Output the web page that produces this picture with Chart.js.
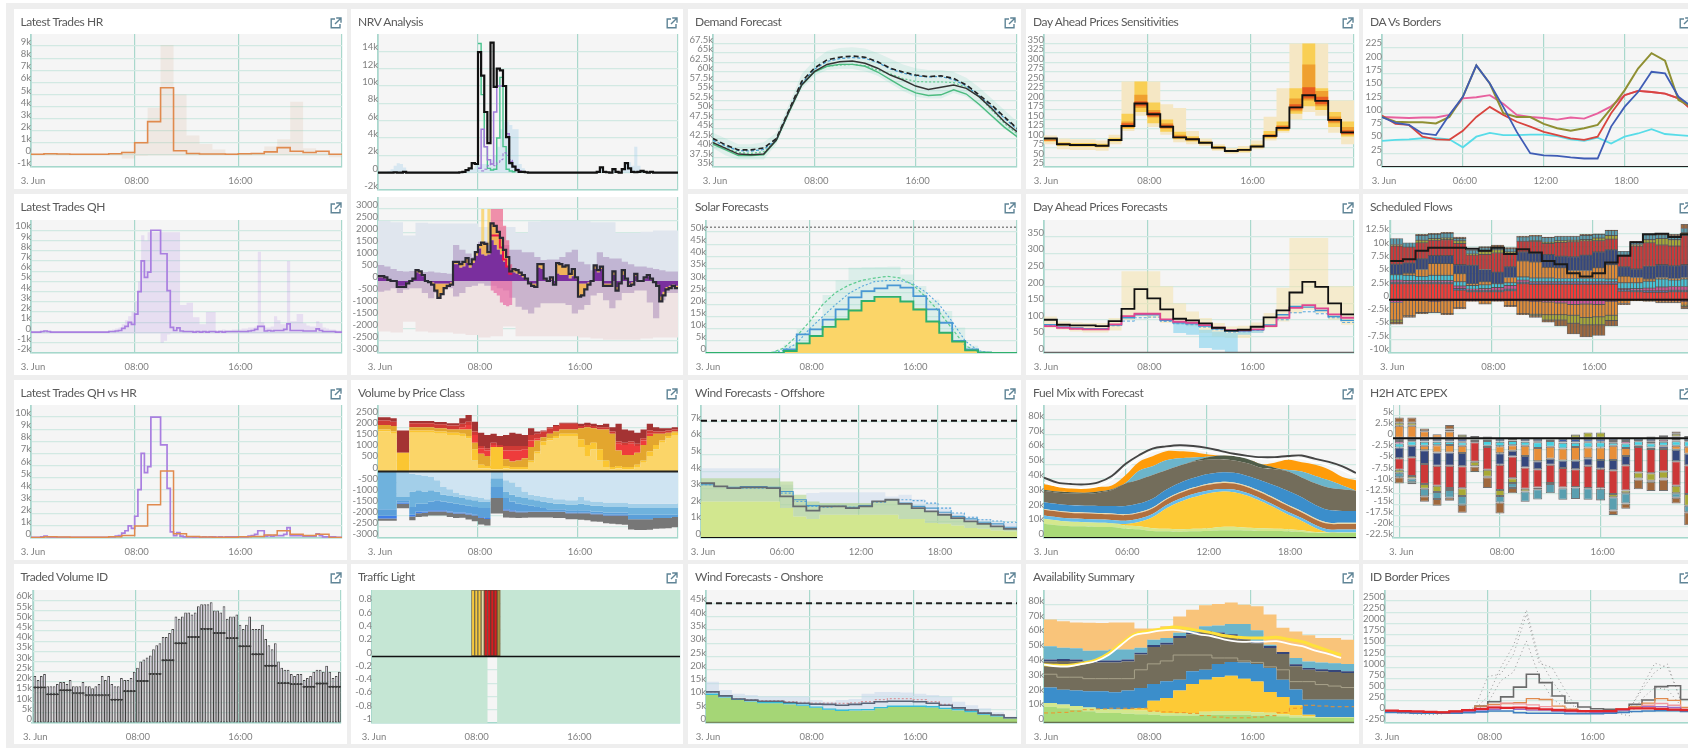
<!DOCTYPE html>
<html>
<head>
<meta charset="utf-8">
<title>Dashboard</title>
<script src="https://cdn.jsdelivr.net/npm/chart.js@4"></script>
<style>
html,body{margin:0;padding:0;width:1688px;height:748px;overflow:hidden;background:#fff}
#bg{position:absolute;left:6px;top:3px;width:1700px;height:760px;background:#eee}
.card{position:absolute;background:#fff}
.card span{position:absolute;left:7px;top:5px;font:12px Lato,sans-serif;letter-spacing:-.4px;color:#5a5a5a;white-space:nowrap;filter:blur(.25px)}
.card svg{position:absolute;top:8px;width:12px;height:12px}
canvas{position:absolute;filter:blur(.45px)}
</style>
</head>
<body>
<div id="bg"></div>
<script>
// tick lists
const x8 = [0,8,16,24], x8Labels = ['3. Jun','08:00','16:00','']
const x6 = [0,6,12,18,24], x6Labels = ['3. Jun','06:00','12:00','18:00','']
const zeroLine = [0,0]

// Latest trades (k)
const hrLine = [.05,.1,.08,.06,.06,.06,.1,.2,1,2.75,5.55,.35,.12,.08,.07,.06,.1,.12,.25,.6,.3,.2,.3,.05]
const hrHi = [.1,.15,.1,.05,.05,.05,.15,.35,1.1,3.9,9.1,5,1.6,.9,.45,.15,.1,.15,.7,1.3,4.4,.55,.3,.1]
const hrLo = [-.05,-.05,-.05,-.05,-.05,-.05,-.05,-.3,-.1,-.05,-.05,-.05,-.05,-.05,-.05,-.05,-.05,-.05,-.05,-.05,-.05,-.05,-.05,-.2]
const qhLine = [.05,.05,.05,.1,.15,.1,.05,.05,.05,.05,.05,.05,.05,.05,.05,.05,.05,.05,.05,.05,.05,.05,.05,.05,
 .1,.1,.15,.2,.4,.6,1,.8,1.8,4,7,5.4,5.9,10,10,10,7.7,7.7,4.1,.5,.2,.45,.15,.1,
 .1,.1,.05,.1,.05,.1,.05,.1,.1,.05,.1,.05,.1,.1,.1,.1,.1,.1,.1,.15,.2,.3,.6,.6,
 .15,.2,.15,.2,.2,.2,.3,.85,.2,.2,.2,.2,.15,.15,.15,.15,.35,.2,.1,.1,.1,.1,.05,.05]
const qhHi = [.1,.1,.1,.1,.2,.1,.1,.1,.1,.1,.1,.1,.1,.1,.1,.1,.1,.1,.1,.1,.1,.1,.1,.1,
 .2,.3,.4,.5,.8,1.2,1.6,2,3,5,9.5,9,9.8,9.8,9.8,9.8,9.8,9.8,9.8,9.8,9.8,9.8,2.7,2.7,
 2.9,2.9,1.5,1.5,.8,.8,2,2,2,.2,.2,.3,.2,.2,.3,.3,.3,.4,.4,.5,.5,.6,7.9,1,
 .5,.5,.6,1.6,1.2,.8,.8,7,1.1,1.1,1.8,1.8,.9,.7,.6,.6,1.1,.9,.5,.4,.3,.3,.2,.2]
const qhLo = [-.1,-.1,-.1,-.1,-.1,-.1,-.1,-.1,-.1,-.1,-.1,-.1,-.1,-.1,-.1,-.1,-.1,-.1,-.1,-.1,-.1,-.1,-.1,-.1,
 -.1,-.1,-.1,-.1,-.1,-.1,-.1,-.1,-.1,-.1,-.1,-.1,-.1,-.1,-.1,-.1,-1,-.8,-.2,-.1,-.1,-.1,-.1,-.1,
 -.1,-.1,-.1,-.1,-.1,-.1,-.1,-.1,-.1,-.1,-.1,-.1,-.1,-.1,-.1,-.1,-.1,-.1,-.1,-.1,-.1,-.1,-.1,-.1,
 -.1,-.1,-.1,-.1,-.1,-.1,-.1,-.1,-.1,-.1,-.1,-.1,-.1,-.1,-.1,-.1,-.1,-.1,-.1,-.1,-.1,-.1,-.1,-.1]

// NRV top (k)
const nrvBlack = [0,0,0,0,0,.05,0,0,.1,0,0,0,0,0,0,0,0,0,0,0,0,0,0,0,0,0,.05,.1,.3,.5,1.1,1,
 13.9,11.2,7,3.4,15,9.9,12,11.8,10,4.1,1.1,.7,.3,.1,.1,.05,0,0,0,0,0,0,0,0,0,0,0,0,0,0,0,0,
 0,0,0,0,0,0,.1,.6,.1,.05,0,.4,.1,0,.4,1.1,.5,.1,.05,.1,.2,.1,0,.1,0,0,0,0,0,0,0,0]
const nrvGreen = [14.9,9,3,.5,.3,.4,4,11,3,.4,.2,.1]
const nrvPurple = [.5,5,3,1.5,1,7,10,10,10,4.5,1.3,.7,.4,.2]
const nrvPurpleDash = [.2,.4,.8,1,.8,1.2,1.5,2.3,2,1.5,.8,.3,.1]
const nrvBlueHi = [.1,.1,.1,.2,.4,.8,1.1,1,.6,.1,.1,.1,.1,.1,.1,.1,.1,.1,.1,.1,.1,.1,.1,.1,.1,.1,.1,.2,.3,.4,.5,1,
 1,1,1,1,1.5,2,3,5,5.9,5.9,5.5,5,5,1,.5,.2,.1,.1,.1,.1,.1,.1,.1,.1,.1,.1,.1,.1,.1,.1,.1,.1,
 .1,.1,.1,.1,.1,.1,.2,.6,.1,.1,.1,.5,.1,.1,.4,1.1,1.2,.8,3,.8,.3,.1,.1,.1,.1,.1,.1,.1,.1,.1,.1,.1]

// NRV bottom
const imbLine = [200,200,150,50,0,0,-250,-250,-250,-100,0,100,450,400,250,0,
 -50,-150,-400,-700,-550,-300,-200,-150,800,800,700,800,950,700,900,1200,
 1500,1600,1550,1200,2400,2300,2050,1800,1300,1000,400,500,450,350,250,100,
 -100,-200,-250,700,700,100,0,150,-150,750,700,600,650,300,500,150,
 -650,-600,-350,-150,0,650,450,600,-200,-200,-200,400,-400,-100,450,100,
 -200,-150,300,0,0,150,250,100,-50,-200,-850,-600,-350,-300,-200,-300]
const imbPurple = [150,150,100,0,0,0,-200,-200,-200,-50,0,80,350,300,200,0,
 0,-50,-100,-100,-100,-100,-100,-50,700,700,550,600,750,550,750,1050,
 1350,1100,1050,1100,1700,1500,1300,1100,800,600,350,350,300,250,150,50,
 -50,-100,-100,550,500,50,0,50,-100,300,250,250,250,100,200,100,
 -100,-100,-100,-50,0,500,350,500,-100,-100,-100,250,-250,-50,250,50,
 -100,-50,200,0,0,100,200,50,0,-150,-650,-450,-250,-200,-150,-200]
const imbOrange = [50,50,50,0,0,0,-50,-50,-50,0,0,20,100,100,50,0,
 0,-100,-300,-600,-450,-200,-100,-100,100,100,150,200,200,150,150,150,
 150,500,500,100,700,800,750,700,500,400,50,150,150,100,100,50,
 -50,-100,-150,150,200,50,0,100,-50,450,450,350,400,200,300,50,
 -550,-500,-250,-100,0,150,100,100,-100,-100,-100,150,-150,-50,200,50,
 -100,-100,100,0,0,50,50,50,-50,-50,-200,-150,-100,-100,-50,-100]
const imbTop = [2500,2450,1900,2430,2400,2400,2400,2400,2250,2250,2250,2000,2480,2500,2500,2500,2500,2450,2450,2000,2000,2050,2100,2100]
const imbBottom = [-2100,-2150,-1700,-2100,-2150,-2150,-2200,-2250,-2350,-2300,-1900,-2300,-2300,-2300,-2300,-2300,-2350,-2400,-2450,-2450,-2450,-2400,-2350,-2350]
const imbBandHi = [670,600,500,420,400,420,380,380,400,350,330,300,1500,1300,1150,1000,1640,1650,1700,1700,1500,1300,1300,1200,1200,1000,870,900,900,1000,1200,1300,800,700,450,1200,1000,940,940,800,700,600,600,550,500,450,400,400]
const imbBandLo = [-450,-400,-300,-500,-350,-300,-300,-500,-720,-500,-300,-300,-650,-500,-250,-200,-100,-200,-200,-300,-400,-700,-1070,-1200,-1350,-1100,-930,-930,-930,-930,-1000,-1350,-1200,-1000,-600,-500,-800,-1140,-800,-500,-500,-400,-400,-900,-1550,-800,-500,-500]
const imbPinkHi = [3000,3000,3000,3000,2300,1700,700]
const imbPinkLo = [1900,1900,1900,1400,900,600,300]
const imbPinkNeg = [-400,-500,-600,-900,-1000,-1050,-1000]
const imbYellowHi = [3000,1500,3000,1500]
const imbYellowLo = [1500,1500,1500,1500]

// Volume by price class, half hours
const vpA = [1800,1800,1700,0,0,1750,1750,1750,1750,1700,1700,1650,1650,1600,1500,500,150,150,100,100,150,100,100,100,400,800,1200,1400,1500,1600,1600,1600,1100,700,1000,500,200,100,150,100,100,200,400,700,1000,1300,1500,1650]
const vpB = [100,100,100,850,850,100,100,100,100,100,100,100,100,100,100,500,150,100,1000,1000,100,100,100,100,100,100,150,100,100,100,100,100,350,500,300,500,300,100,100,100,100,100,100,200,200,100,100,100]
const vpC = [200,200,250,0,0,150,150,150,150,150,150,150,150,200,300,300,500,450,0,0,300,250,300,400,600,500,200,200,200,200,200,200,500,800,650,900,1400,1500,700,550,550,550,700,700,500,300,150,50]
const vpD = [0,0,0,0,0,0,0,0,0,0,0,0,0,100,200,350,250,250,100,0,400,500,450,400,300,100,0,0,0,0,0,0,0,0,0,0,0,0,300,450,500,300,200,100,0,0,0,0]
const vpE = [200,200,200,0,0,180,180,180,180,180,180,180,180,150,150,150,100,100,100,100,200,200,200,150,250,200,250,250,250,250,250,250,100,100,100,100,100,100,100,100,100,100,100,150,100,100,100,100]
const vpF = [150,150,150,1000,1000,100,100,100,100,100,100,100,100,250,300,450,600,600,400,400,500,600,550,500,300,100,50,50,50,50,50,50,100,100,100,100,150,200,800,600,500,500,400,300,200,150,100,100]
const vnA = [0,0,0,0,0,-100,-150,-200,-250,-400,-700,-800,-950,-1050,-1100,-1150,-1200,-1250,0,0,-400,-500,-700,-900,-1050,-1100,-1150,-1200,-1250,-1250,-1300,-1300,-1150,-1300,-1350,-1350,-1400,-1400,-1400,-1400,-1450,-1450,-1450,-1450,-1450,-1450,-1450,-1450]
const vnB = [0,0,0,-1150,-1150,-800,-700,-700,-600,-500,-350,-300,-200,-150,-150,-150,-150,-100,-300,-300,-500,-550,-450,-300,-200,-200,-200,-200,-200,-200,-200,-200,-300,-200,-200,-200,-200,-200,-200,-200,-200,-200,-200,-200,-200,-200,-200,-200]
const vnC = [-1700,-1700,-1700,-150,-150,-700,-600,-550,-500,-400,-300,-300,-300,-300,-300,-300,-300,-300,-400,-400,-300,-300,-300,-300,-300,-300,-300,-300,-250,-250,-250,-250,-300,-250,-250,-250,-250,-250,-250,-250,-300,-300,-300,-300,-300,-300,-300,-300]
const vnD = [-300,-300,-300,-100,-100,-350,-350,-350,-400,-450,-400,-400,-400,-350,-350,-350,-400,-450,-500,-500,-500,-400,-350,-300,-250,-200,-150,-100,-100,-100,-100,-100,-100,-100,-100,-100,-100,-100,-100,-100,-200,-200,-200,-200,-150,-150,-150,-100]
const vnE = [-120,-120,-120,-60,-60,-80,-80,-60,-50,-50,-50,-50,-50,-40,-40,-40,-40,-40,0,0,-60,-60,-40,-40,-30,-30,-30,-30,-30,-30,-30,-30,-30,-30,-30,-30,-30,-30,-30,-30,0,0,0,0,0,0,0,0]
const vnF = [-100,-100,-100,-200,-200,-170,-170,-170,-180,-190,-190,-200,-200,-200,-220,-250,-300,-300,-700,-700,-320,-280,-260,-250,-250,-240,-240,-250,-270,-270,-270,-270,-300,-320,-330,-340,-360,-380,-400,-420,-470,-490,-490,-480,-480,-470,-460,-460]

// Traded volume (k), quarter hours and hourly level
const tvTotal = [23,21,23,24,18,18,18,19,20,20,19,21,18,18,18,20,18,18,17,18,19,23,21,23,19,18,18,22,21,21,22,25,
 27,30,31,32,33,36,38,39,42,42,44,46,52,51,52,54,54,53,54,57,58,58,58,59,55,55,54,57,51,52,52,53,
 48,46,48,52,46,46,46,48,41,38,36,39,30,27,26,26,24,23,24,24,21,22,23,25,26,26,25,28,25,22,23,25]
const tvHourly = [17.4,14,16,14.6,13.6,13.6,11.4,15.6,20.5,24,30.7,39,42,46,44,41.5,37.5,33.6,28,19.5,19,17.7,19.3,17.7]

// Traffic light, quarter hours
const tlUp = [1,1,1,1,1,1,1,1,1,1,1,1,1,1,1,1,1,1,1,1,1,1,1,1,1,1,1,1,1,1,1,0,0,0,0,0,0,0,0,0,1,1,1,1,1,1,1,1,
 1,1,1,1,1,1,1,1,1,1,1,1,1,1,1,1,1,1,1,1,1,1,1,1,1,1,1,1,1,1,1,1,1,1,1,1,1,1,1,1,1,1,1,1,1,1,1,1]
const tlDown = [-1,-1,-1,-1,-1,-1,-1,-1,-1,-1,-1,-1,-1,-1,-1,-1,-1,-1,-1,-1,-1,-1,-1,-1,-1,-1,-1,-1,-1,-1,-1,-1,-1,-1,-1,-1,0,0,0,-1,-1,-1,-1,-1,-1,-1,-1,-1,
 -1,-1,-1,-1,-1,-1,-1,-1,-1,-1,-1,-1,-1,-1,-1,-1,-1,-1,-1,-1,-1,-1,-1,-1,-1,-1,-1,-1,-1,-1,-1,-1,-1,-1,-1,-1,-1,-1,-1,-1,-1,-1,-1,-1,-1,-1,-1,-1,-1,-1]
const tlYellow = [1,1,1]
const tlPale = [1]
const tlRed = [1,1,1,1]
const tlOlive = [1]

// Demand (k)
const demActual = [41.4,39.9,38.4,38.2,38.4,42.1,49.6,56.6,60.1,62,62.7,62.9,62.3,61,59.2,57.9,56.3,55.4,56,56.6,55.7,53.5,50.4,46.9,44.3]
const demDash = [42.5,40.8,39.5,39.5,40,42.5,50,57.5,61,63.2,63.9,64.2,63.9,62.7,61,60,59.2,58.8,59,58.3,56.6,54,51.3,48.2,45.2]
const demGreen = [41,39.5,38,38,38.2,42,49.5,56.5,60,61.5,62,62,61.5,60,58,56,54.5,53.8,54,55.3,54.2,51.5,48.5,45.5,43]
const demBlueDash = [42,40.5,39.3,39.2,39.6,42.2,49.8,57,60.7,62.8,63.5,63.8,63.6,62.5,60.8,59.7,59,58.7,58.8,58,56.3,53.8,50.9,47.9,44.9]
const demGreenDash = [41.5,40,38.8,38.6,39,42,49.5,56.8,60.2,61.5,61.8,62,61.7,60.5,59.5,58.3,57.5,57.4,57.4,57.2,56,53.5,50,46.5,43.8]
const demHi = [44,42.5,41,41,41.5,44,51.5,59.5,63,65.5,66.3,66.5,66.2,65,63.5,62,61,60.5,60.5,60,58.5,56,53,50,47]
const demLo = [40,38,37,37,37,41,48.5,55.5,59,60.5,60.8,60.8,60.2,59,57,55,53.5,53,53,54.5,53.5,51,48,45,43]

// Day ahead sensitivities and forecasts
const daBlack = [100,85,83,83,81,96,133,192,164,131,103,98,89,76,67,70,79,107,128,182,214,199,149,116]
const daTanHi = [108,100,98,98,95,110,250,250,250,190,180,120,100,85,75,80,95,157,232,350,350,350,200,200]
const daTanLo = [85,72,70,70,68,85,120,160,130,110,90,85,80,68,60,62,72,95,115,150,170,160,115,85]
const daYelHi = [100,90,88,88,86,102,165,250,195,150,118,106,93,80,70,74,84,120,145,232,350,232,170,145]
const daYelLo = [92,80,78,78,76,92,125,170,140,118,98,92,85,72,64,66,76,100,120,165,185,175,130,105]
const daOraHi = [96,87,85,85,83,98,145,215,175,140,110,102,91,78,68,72,81,112,135,205,295,225,158,130]
const daOraLo = [94,83,81,81,79,94,128,180,155,125,100,95,87,74,66,68,77,103,123,172,200,185,140,110]
const daRedHi = [97,87,85,85,83,98,140,198,170,136,106,100,90,77,68,71,80,110,132,190,235,210,152,122]
const daRedLo = [95,84,82,82,80,95,130,185,158,128,101,96,88,75,66,69,78,104,125,176,205,190,145,112]
const dfPink = [81,76,73,71,71,86,111,118,118,101,94,91,84,76,69,68,71,81,106,136,144,134,116,106]
const dfBlue = [85,78,75,73,73,84,106,115,115,98,91,88,81,73,66,66,70,84,115,140,138,128,110,98]
const dfBlueDash = [82,76,73,71,71,82,96,106,108,95,88,85,78,70,63,64,68,80,100,121,124,118,106,92]
const dfHi = [110,95,92,90,90,105,246,246,246,201,150,125,105,90,80,82,92,120,196,346,346,346,201,201]
const dfLo = [75,70,65,62,62,68,100,110,105,90,85,80,60,50,45,45,60,75,95,120,130,120,100,85]
const dfSkyHi = [90,85,70,65,60,65,70]
const dfSkyLo = [60,55,15,10,0,55,60]

// DA vs borders
const dbBlue = [94,83,79,63,60,98,132,191,157,113,66,26,22,21,18,16,16,76,113,141,179,176,132,113]
const dbOlive = [94,85,84,84,82,94,132,191,157,101,94,94,81,73,68,73,79,110,144,185,214,200,126,113]
const dbPink = [94,93,92,93,93,98,129,131,135,119,98,94,92,89,93,91,101,114,135,143,141,138,129,107]
const dbRed = [97,81,79,57,52,51,68,94,113,98,85,76,66,60,54,51,57,101,135,143,141,138,129,107]
const dbCyan = [49,51,52,54,54,52,37,57,64,60,60,61,61,58,52,49,55,44,57,63,71,62,60,58]

// Solar (k)
const soArea = [0,0,0,0,0,0,.8,3.9,7,10.5,14.2,18,21.5,23,23,21,18.5,13,8.4,4.7,1.1,.1,0,0]
const soGreen = [0,0,0,0,0,0,.8,4,7,10.8,13.9,17.6,21.5,23.2,23.2,21.3,18,13,8.4,4.7,1.1,.1,0,0]
const soBlue = [0,0,0,0,0,0,1.5,7.7,9.8,13.8,18,23,25.6,26.7,28,27,23.5,18,12.5,5,1.5,.1,0,0]
const soGreenDash = [0,0,0,0,0,0,2,7,13,20,25,28,30,31,31.7,31,28,23,17,10,3,.5,0,0,0]
const soBlueDash = [0,0,0,0,0,.2,1,4,10,15,20,24.5,27.5,29.5,30,30,28.5,25,20,13,5,1,0,0,0]
const soHi = [0,0,0,0,0,0,3.5,9.8,14,24,30,35.3,35.5,35.6,35.7,32.5,27.7,22,17.4,10.5,3,.5,0,0]
const soLo = [0,0,0,0,0,0,.2,3,6,9,12,16,20,22,22,20,17,12,7,4,1,0,0,0]
const soCap = [52,52]

// Scheduled flows (k), hourly
const sfRed = [3,3,3,3,3,1.8,1.5,1.5,1.5,1.7,3,2.9,2.9,2.9,2.9,2.9,2.9,2.9,1.6,1.5,1.4,1.4,1.5,1.5]
const sfBlue = [.3,.3,.3,.3,.3,.3,.3,.3,.3,.3,.3,.3,.3,.3,.3,.3,.3,.3,.3,.3,.3,.3,.3,.3]
const sfPink = [.4,.3,.3,.3,.3,.5,.2,.3,.5,.7,.4,.2,.2,.2,.2,.2,.2,.2,.2,.3,.5,.7,.7,.7]
const sfCyan = [1,1,.8,1,1,.8,.7,.7,.7,.5,.6,.7,.7,.6,.6,.6,.6,.5,1.1,1.1,1.3,1.5,1.2,1.4]
const sfOrange = [0,.4,1.3,2.2,2.2,1.5,.3,.6,0,1,3,3,2,2,1.5,1.5,2,2.7,1.2,1,.4,.3,.3,.3]
const sfNavy = [2,1.9,2,1.5,1.5,1.7,3.5,2.3,2.2,2,1.7,1.7,2.4,2.2,2.6,2.9,3,2.8,1.8,1.6,2.4,2.4,2.4,2.4]
const sfCrimson = [3.4,3,3,2.9,3,4,1.9,2.8,3.6,2.6,2,2.2,2.1,2.6,2.8,2.7,2.1,2,2.2,4.3,4.4,3.7,3.7,5.5]
const sfOlive = [.3,0,.5,.3,.3,.5,.2,.6,.6,.2,0,.1,.2,.3,.3,.2,.5,.7,0,.3,.6,1.2,1.2,.5]
const sfTeal = [1.1,.8,.9,.8,.9,.4,.7,.7,.5,.6,.8,.9,.9,.8,.7,.8,.7,.9,.7,.4,.9,.7,.7,.8]
const sfBrown = [0,0,.2,.2,.2,.3,0,.2,.4,.2,.2,.1,.1,.1,.1,.2,.1,.1,0,.2,.2,.3,.3,.8]
const sfNegPink = [-.5,-.1,-.1,-.3,-.2,-.1,-.1,-.1,-.1,-.1,-.2,-.3,-.4,-.6,-.9,-.8,-.9,-.3,0,0,0,-.2,-.2,-.3]
const sfNegOrange = [-3.3,-2.9,-2.3,-2.1,-2.4,-1.4,-.2,-.7,-.2,-1,-2.4,-2.4,-2.4,-2.2,-2,-2.5,-2.3,-2.6,-.7,-.2,-.3,-.3,-.3,-.7]
const sfNegOlive = [-.4,0,0,0,0,0,0,0,0,0,0,-.3,-1,-1,-1.5,-1.4,-1.5,-1,0,0,0,0,0,-.2]
const sfNegBrown = [-.4,-.3,-.2,0,-.2,-.2,0,0,0,-.2,-.2,-.3,-.4,-1.1,-2,-2.3,-2,-1,-.2,0,0,-.1,-.1,-.5]
const sfLine = [7.3,7.6,9.2,9.8,9.8,9.8,9.6,9.2,9.8,8.6,9.5,8.9,7.3,6.7,5,4.4,5,7,8.3,10.8,12.3,12.4,11.8,12.3]

// H2H ATC (k), hourly
const hBlue = [-.6,-.6,-.7,-.7,-.7,-.8,-.2,-.3,-.7,-.5,-.7,-.7,-.3,-.9,-.9,-.8,-.8,-.6,-.6,-.6,-.7,-.3,-.5,-.6]
const hPink = [-.6,-.1,-.1,-.1,-.1,-.1,-.1,-.3,-.1,-.1,-.1,-.2,-.3,-.1,-.1,-.1,-.1,-.4,-.6,-.1,-.4,-.5,-.2,-.1]
const hCyan = [-.9,-1,-.9,-.8,-.7,-.8,-.3,-1.1,-1,-1,-.9,-1.3,-1.3,-1.3,-1,-1.2,-1.2,-.7,-1,-1,-1,-.9,-1,-1.2]
const hOrange = [0,0,-1,-1.6,-1.7,-1.6,0,0,-1.6,-1.2,-2.3,-3,-2.7,-2.7,-3,-2.4,-2.8,-3.2,-1.8,0,0,-.1,-.9,-1.6]
const hNavy = [-2.4,-2.6,-3.1,-3,-3,-3,-.3,-.3,-2.6,-1.3,-2.6,-1.8,-1.4,-1.7,-2,-1.7,-2,-2.3,-2.1,-.3,-.3,-.6,-2.6,-2.6]
const hRed = [-2.6,-4.2,-4.5,-4.5,-5,-5,-4.4,-5.1,-5.7,-4.9,-4.8,-4.1,-4.1,-4.4,-4,-5,-4.4,-5.4,-5.7,-5.7,-5.5,-5.1,-5.5,-6.5]
const hOlive = [-.7,-.6,-1.1,-1.4,-.5,-1.7,-1,-1.6,-1.3,-1.1,-.6,-.4,-.2,-.2,-.1,-.1,-.1,-.7,-.6,-1.4,-1.7,-1.6,-1.7,-2.6]
const hTeal = [-1,-.8,-1.7,-1.6,-1.7,-2,-.1,-.1,-1.5,-1.1,-2.3,-2.3,-2.1,-2.6,-2.6,-2.6,-2.6,-3,-2.3,-.2,-.2,-.2,-1,-1.5]
const hBrown = [-1.4,-.5,-1.2,-1.5,-.7,-1.8,-1.2,-2.4,-2.5,-1.2,-.1,0,0,0,0,0,-.1,-1,-1.2,-2.2,-2.1,-2.6,-1.3,-2.9]
const hUpOrange = [2.8,2.8,1.6,.9,1.5,.2,0,0,0,0,0,0,0,0,0,0,0,0,0,0,0,.1,.4,.1]
const hUpOlive = [.7,.7,0,0,.5,.6,.3,.4,0,0,0,0,0,0,.8,1.3,1.3,0,0,0,.4,.4,.6,.2]
const hUpBrown = [1.2,1.2,.6,0,1,.1,.2,0,0,0,0,0,0,0,.1,0,0,0,0,0,0,.2,.5,.2]

// Wind offshore (k), hourly
const ofGrey = [3.3,3.1,3,3.05,3.05,3,2.5,1.9,1.65,1.9,1.9,1.8,1.9,2.2,2.3,2.05,1.8,1.6,1.4,1.2,1,.85,.7,.55]
const ofBlue = [3.2,3.1,3.05,3.1,3.1,3.05,2.8,2.3,1.95,1.9,1.9,1.85,1.95,2.2,2.3,2.1,1.9,1.8,1.55,1.3,1.15,.95,.85,.65]
const ofDash = [3.2,3.1,3,3,3,3,2.7,2.2,1.9,1.85,1.9,1.85,1.95,2.15,2.3,2.3,2.25,2.1,1.8,1.5,1.25,1.1,1.02,.95]
const ofHi = [4.2,4.2,4.2,4.2,4.2,4.2,3.2,2.3,2.7,2.75,2.75,2.75,2.75,2.75,2.5,2.6,2.35,2.1,1.85,1.5,1.3,1.15,1.02,.9]
const ofLime = [3.6,3.6,3.6,3.6,3.6,3.6,3.4,2.6,2.2,2.1,2.1,2.1,2.1,2.2,2.3,2.1,1.8,1.6,1.4,1.2,1,.85,.7,.55]
const ofArea = [2.2,2.2,2.2,2.2,2.2,2.2,1.8,1.3,1.15,1.4,1.4,1.4,1.4,1.4,1.4,1.15,1.15,.9,.85,.75,.6,.55,.45,.4]
const ofCap = [7.05,7.05]

// Wind onshore (k), hourly
const onArea = [10.5,9.5,8.6,8,7.4,7.4,7,6.4,5.7,4.9,4.5,4.6,4.7,5.5,6,6,6,5.8,5.2,4.7,4,3,2.4,1.7]
const onCyan = [10.8,9.8,8.9,8.3,7.7,7.7,7.3,6.7,6,5.2,4.8,4.9,5,5.8,6.3,6.3,6.3,6.1,5.5,5,4.3,3.3,2.7,2]
const onGrey = [11.7,10.2,9,8.6,8.2,8.2,7.7,7.4,7.1,7,6.7,7,7.4,8,8.2,8.2,8,7.4,6.7,5.7,4.9,3.7,3,2]
const onPink = [11.7,10.2,9.2,8.8,8.4,8.4,8,7.8,7.5,7.5,7.4,7.6,8,8.8,9.2,9.2,8.8,8,7,5.8,4.9,3.7,3,2]
const onHi = [15.5,12.4,11,10.5,10,10,10,10,8.6,8,8.6,9,11,11.7,11.7,11.5,11,10.5,10,8,6.7,5.5,4,2.4]
const onCap = [45,45]

// Fuel mix (k), hourly, smooth
const fmGreen = [9.7,8.6,8,8,7.5,7.4,6.3,5.9,4.7,4.5,4.3,4.5,4.7,5.2,5.2,5,4.7,4.7,4.5,4,3.4,3.4,3.4,3.4]
const fmLime = [3.4,3.3,3,2.7,2.8,2.6,2.2,2,1.9,1.7,1.6,1.8,1.7,2.3,2.4,2,1.9,1.5,1.4,1.2,.6,.3,.3,.3]
const fmSolar = [0,0,0,0,0,0,1,3,7.4,13.7,18.4,21.2,23.6,23.8,23.4,21.6,18.2,14.2,9.8,6.3,2.8,.1,0,0]
const fmSky = [2.2,2.2,2.2,2.2,2.2,2.2,2.2,2.2,2.2,2.2,2.2,2.2,1.9,1.8,1.8,1.8,1.8,1.8,1.9,2,2,2,2,2]
const fmBrown = [3.8,3.8,3.8,3.8,3.8,3.8,3.8,3.8,3.8,3.8,3.8,3.8,4,4,4,4,4,4,4,3.8,3.8,3.8,3.8,3.8]
const fmPale = [.6,.6,.6,.6,.6,.6,.6,.6,.6,.6,.6,.6,.7,.8,.8,.8,.8,.8,.7,.8,.8,.8,.8,.8]
const fmBlue = [4.5,4.5,4.5,4.5,4.8,5,5.6,5.8,6,6.2,6.4,6.5,6.5,6.5,6.5,6.8,7.5,8.5,9.5,9.5,9,8.5,8,8]
const fmOlive = [7.7,7.7,8.1,8.1,9,10.8,15.1,16.2,16,13.1,11.7,11,9.8,8.9,8.4,8.5,8.6,11,13.2,13.4,14.6,15.1,14.7,13.7]
const fmDark = [.8,.8,.8,.8,.8,.6,0,0,0,0,0,.4,1.5,2.5,3,3,2.5,1,0,0,0,0,0,0]
const fmTeal = [0,0,0,0,0,0,.5,6,6,6.8,5,2.5,.5,0,0,0,0,0,1,4,5,5,2.5,0]
const fmOrange = [3.6,3.3,3,3,3,2.5,5.1,6,6.7,6.1,4.7,3.7,1.7,0,0,0,0,3.5,6.9,6.2,7.5,7.3,5.8,7]
const fmOutline = [40.8,37.5,36.5,36.3,37.7,42,50,56,60.5,62,62.8,62.3,61,59,57,55.6,54.7,54.7,55.5,55.8,53.5,51.5,48.5,44]
const fmWhite = [37.8,35,34,33.8,35,39.5,47.5,53.5,58.5,60,60.8,60,58.8,57,56,54.6,53.5,53,53.8,53.8,51.2,49.2,45.8,41.5]

// Availability (k), hourly
const avGreen = [11,10,9,8,7,6.7,6.3,6,5.6,5,5,5,5.6,5.6,5.6,5.6,5,5,4.5,3.8,3.4,3.4,3.4,3.4]
const avLime = [2.5,2.5,2.5,2.5,2.5,2.5,2.5,2.5,2,1.8,1.8,1.8,2,2.6,2.6,2.6,2.2,2,1.5,1.3,1,.5,.5,.5]
const avSolar = [0,0,0,0,0,0,.5,1.5,7.4,10.2,15.2,19.6,21.7,22.8,23.8,21.8,20.8,14,11.6,6.9,1.2,0,0,0]
const avBlue = [10.5,10,10.5,11,12,11.6,12.7,13.7,11.4,11.2,7.3,8.6,6.7,9,9.3,11,12,16.2,11.7,10.6,10.2,11.9,11.9,11.9]
const avOlive = [17.7,19.5,19.7,19.1,19.5,20.2,19.7,22.6,25.1,24.8,28.2,25,25,20,17.4,15.4,14,13.6,17.4,15.8,20.2,19.2,18.7,18]
const avNavy = [1.3,1.3,1.3,1.3,1.3,1.3,1.3,1.3,1.3,1.3,1.3,1.3,1.3,1.3,1.3,1.3,1.3,1.3,1.3,1.3,1.3,1.3,1.3,1.3]
const avTeal = [9,7.7,7.5,7,6.7,7.4,6.7,3.4,3.6,3.2,2.2,1.7,3.2,4.7,7,9.3,7.4,.9,.1,4.3,4.4,4.7,4.7,4.9]
const avOrange = [18,17.8,17.5,19,18.7,18.3,18.3,13,7.6,8,11,13.7,14.2,14.6,14.5,13,16.3,20.4,16.3,18,17.7,16.5,17,16.4]
const avWhite = [39.5,38.4,38.4,40,41.8,46,53,59.4,61,62.5,63,62,60,58.7,56.4,55,55,55,55.4,53.5,52,49,46.7,44]
const avYellow = [39.5,39,39,40.5,42.5,47,54,60,62,63.5,65,64,62.5,61,59,58,57.5,57.5,58,56.5,55,52,49,46]
const avDash = [6.8,7.2,8,9,9.5,10,10,10,8,7.5,7,6.5,5,4,3.5,3.5,4,5,7,10,12,11.5,11,11]
const avPale = [33,31,31,30,30,30,30,36,40,42,46,46,46,44,44,42,41,38,36,28,28,26,25,24]

// ID border prices, hourly
const idGrey = [10,10,0,0,0,10,20,130,230,340,560,850,660,360,200,110,70,60,60,170,270,570,590,280]
const idDotA = [0,0,0,0,0,0,10,60,350,1000,1500,2300,1200,700,300,50,0,0,0,50,560,1100,1000,300]
const idDotB = [0,0,-30,-30,-30,0,10,100,800,850,1300,2200,1100,1000,500,40,0,0,0,60,500,900,1080,250]
const idDotC = [10,-20,-40,-60,-60,-20,0,30,200,700,900,1600,800,300,100,20,-20,-30,-20,-90,300,550,500,150]
const idRed = [30,20,10,0,-10,10,40,70,100,90,100,80,60,40,30,20,20,20,60,80,80,70,50,40]
const idOrange = [20,10,0,0,0,20,50,130,170,190,210,300,280,130,60,20,10,10,60,120,200,300,260,100]
const idPink = [10,0,-10,-10,-10,0,20,60,130,200,180,160,120,60,30,10,0,0,30,90,150,190,150,70]
const idPurple = [0,-10,-20,-20,-20,-10,10,40,60,80,60,40,40,20,0,0,-10,-10,40,80,120,120,100,50]
const idBlue = [-10,-20,-30,-30,-30,-30,-20,0,20,20,-20,-30,-30,-30,-40,-40,-40,-30,-10,10,20,30,30,10]

// ---- helpers
function pts(v, dt, start){
  let s = start||0
  return v.map((y,i)=>({x:s+i*dt, y:y}))
}
function stepPts(v, dt, start){
  let p = pts(v, dt, start)
  p.push({x:p[p.length-1].x+dt, y:v[v.length-1]})
  return p
}
function ln(v, dt, color, width, o){
  o = o||{}
  return {type:'line', data: o.smooth||o.straight ? pts(v,dt,o.start) : stepPts(v,dt,o.start),
    stepped: !(o.smooth||o.straight), tension:o.smooth?.35:0, borderColor:color, borderWidth:width,
    borderDash:o.dash||[], pointRadius:0, fill:false}
}
// flat strokes, one per interval, with no vertical joins
function flats(v, dt, color, width){
  let d = []
  v.forEach((y,i)=>{ d.push({x:i*dt,y:y},{x:(i+1)*dt,y:y},{x:(i+1)*dt,y:null}) })
  return {type:'line', data:d, borderColor:color, borderWidth:width, pointRadius:0, fill:false, spanGaps:false}
}
function band(lo, hi, dt, color, o){
  o = o||{}
  let a = ln(lo,dt,'transparent',0,o), b = ln(hi,dt,'transparent',0,o)
  b.fill = '-1'
  b.backgroundColor = color
  return [a,b]
}
function layers(list, dt, stack, o){
  return list.map((l,i)=>{
    let d = ln(l[0],dt,'transparent',0,o)
    d.stack = stack
    d.fill = i==0 ? 'origin' : '-1'
    d.backgroundColor = l[1]
    return d
  })
}
function bar(v, dt, color, stack, o){
  o = o||{}
  return {type:'bar', data:v.map((y,i)=>({x:(o.start||0)+(i+.5)*dt, y:y})), backgroundColor:color,
    borderColor:o.border||'transparent', borderWidth:o.bw==null?1:o.bw, borderSkipped:false, stack:stack,
    barPercentage:o.bp||1, categoryPercentage:1}
}
function by4(v){ let r=[]; v.forEach(y=>r.push(y,y,y,y)); return r }

// ---- layout
const cards = [
 {x:13.5,y:9,w:333,h:180,t:'Latest Trades HR'},{x:13.5,y:194,w:333,h:181,t:'Latest Trades QH'},
 {x:13.5,y:380,w:333,h:180,t:'Latest Trades QH vs HR'},{x:13.5,y:564,w:333,h:180,t:'Traded Volume ID'},
 {x:351,y:9,w:332,h:366,t:'NRV Analysis'},{x:351,y:380,w:332,h:180,t:'Volume by Price Class'},{x:351,y:564,w:332,h:180,t:'Traffic Light'},
 {x:688,y:9,w:333,h:180,t:'Demand Forecast'},{x:688,y:194,w:333,h:181,t:'Solar Forecasts'},
 {x:688,y:380,w:333,h:180,t:'Wind Forecasts - Offshore'},{x:688,y:564,w:333,h:180,t:'Wind Forecasts - Onshore'},
 {x:1026,y:9,w:333,h:180,t:'Day Ahead Prices Sensitivities'},{x:1026,y:194,w:333,h:181,t:'Day Ahead Prices Forecasts'},
 {x:1026,y:380,w:333,h:180,t:'Fuel Mix with Forecast'},{x:1026,y:564,w:333,h:180,t:'Availability Summary'},
 {x:1363,y:9,w:333,h:180,t:'DA Vs Borders'},{x:1363,y:194,w:333,h:181,t:'Scheduled Flows'},
 {x:1363,y:380,w:333,h:180,t:'H2H ATC EPEX'},{x:1363,y:564,w:333,h:180,t:'ID Border Prices'}
]
cards.forEach(c=>{
  let d = document.createElement('div')
  d.className = 'card'
  d.style.cssText = `left:${c.x}px;top:${c.y}px;width:${c.w}px;height:${c.h}px`
  d.innerHTML = `<span>${c.t}</span><svg style="left:${c.w-17}px" viewBox="0 0 12 12" fill="none" stroke="#5f8496" stroke-width="1.4"><path d="M5 2H1.2v8.8H10V7"/><path d="M6.2 1h4.8v4.8M10.8 1.2 5 7"/></svg>`
  document.body.appendChild(d)
})

const bgPlugin = {id:'plotBg', beforeDraw(c){
  let a = c.chartArea
  c.ctx.save(); c.ctx.fillStyle='#f5f5f5'; c.ctx.fillRect(a.left,a.top,a.width,a.height); c.ctx.restore()
}}

function panel(o){
  const L=40, T=8, B=22, R=6
  let cv = document.createElement('canvas')
  cv.width = o.x1-o.x0+L+R
  cv.height = o.y1-o.y0+T+B
  cv.style.left = (o.x0-L)+'px'
  cv.style.top = (o.y0-T)+'px'
  document.body.appendChild(cv)
  let xt = o.xt||x8, xl = o.xl||x8Labels, suffix = o.plain?'':'k'
  new Chart(cv,{
    type:'line',
    data:{datasets:o.ds},
    plugins:[bgPlugin],
    options:{
      responsive:false, animation:false, events:[],
      layout:{padding:{top:T,right:R}},
      plugins:{legend:{display:false},tooltip:{enabled:false}},
      scales:{
        x:{type:'linear',offset:false,min:o.xMin==null?0:o.xMin,max:o.xMax==null?24:o.xMax,
          grid:{offset:false,color:'#a9d8cc',lineWidth:1.2,drawTicks:false},
          border:{color:'#a5d8cc',width:1.5},
          afterBuildTicks:s=>{s.ticks=xt.filter(v=>v<=s.max).map(v=>({value:v}))},
          afterFit:s=>{s.height=B},
          ticks:{autoSkip:false,maxRotation:0,padding:8,labelOffset:2,color:'#808080',font:{family:'Lato',size:9.5},
            callback:v=>o.noX?'':xl[xt.indexOf(v)]}},
        y:{min:o.min,max:o.max,
          grid:{color:'#d2e9e3',lineWidth:1.2,drawTicks:false},
          border:{color:'#bcdcd8',width:1},
          afterBuildTicks:s=>{s.ticks=o.yt.map(v=>({value:v}))},
          afterFit:s=>{s.width=L},
          ticks:{autoSkip:false,padding:0,labelOffset:-4,color:'#808080',font:{family:'Lato',size:9.5},
            callback:v=>v===0?'0':v+suffix}}
      }
    }
  })
}

// ---- panels
panel({x0:31,x1:344,y0:34,y1:167,min:-1,max:10,yt:[-1,0,1,2,3,4,5,6,7,8,9],ds:[
  ln(hrLine,1,'#e08a4e',1.6),
  ...band(hrLo,hrHi,1,'rgba(205,160,125,.15)')]})
panel({x0:31,x1:344,y0:220,y1:353,min:-2,max:11,yt:[-2,-1,0,1,2,3,4,5,6,7,8,9,10],ds:[
  ln(qhLine,.25,'#a97fe0',1.7),
  ...band(qhLo,qhHi,.25,'rgba(175,130,225,.2)')]})
panel({x0:31,x1:344,y0:405,y1:538,min:0,max:11,yt:[0,1,2,3,4,5,6,7,8,9,10],ds:[
  ln(hrLine,1,'#e08a4e',1.5),
  ln(qhLine,.25,'#a97fe0',1.7)]})
panel({x0:32.3,x1:344,y0:590,y1:723,xMin:-.1,min:0,max:65,yt:[0,5,10,15,20,25,30,35,40,45,50,55,60],ds:[
  flats(tvHourly,1,'#3a3a3a',1.4),
  bar(by4(tvHourly),.25,'#b8b4ba','tv',{border:'#3a3a3a',bp:.85}),
  bar(tvTotal.map((v,i)=>Math.max(v-tvHourly[Math.floor(i/4)],0)),.25,'#dcd5e6','tv',{border:'#4a4a4a',bp:.85})]})

panel({x0:378,x1:680.5,y0:34,y1:190,noX:true,min:-2,max:16,yt:[-2,0,2,4,6,8,10,12,14],ds:[
  ln(nrvBlack,.25,'#111',2.2),
  ln(nrvPurple,.25,'#a07bd8',1.5,{start:8}),
  ln(nrvPurpleDash,.25,'#9a70d0',1,{start:8.25,dash:[3,2]}),
  ln(nrvGreen,.25,'#46c38c',1.4,{start:8}),
  ...layers([[nrvBlueHi,'rgba(160,205,235,.35)']],.25,'b')]})
panel({x0:378,x1:680.5,y0:197,y1:353,plain:true,min:-3000,max:3500,yt:[-3000,-2500,-2000,-1500,-1000,-500,0,500,1000,1500,2000,2500,3000],ds:[
  ln(imbLine,.25,'#2b2b35',2.2),
  ln(imbPinkLo,.25,'#e8164f',2,{start:9}),
  ...layers([[imbPurple,'#7a2f9e'],[imbOrange,'#f0b35a']],.25,'a'),
  ...band(imbPinkLo,imbPinkHi,.25,'rgba(235,75,120,.6)',{start:9}),
  ...band(imbYellowLo,imbYellowHi,.25,'rgba(250,205,90,.75)',{start:8.25}),
  ...layers([[imbPinkNeg,'rgba(232,105,165,.7)']],.25,'p',{start:9}),
  ...band(imbBandLo,imbBandHi,.5,'rgba(150,115,175,.42)'),
  ...layers([[imbTop,'#e0e6ee']],1,'t'),
  ...layers([[imbBottom,'#efe3e3']],1,'u')]})
panel({x0:378,x1:680.5,y0:405,y1:538,plain:true,min:-3000,max:3000,yt:[-3000,-2500,-2000,-1500,-1000,-500,0,500,1000,1500,2000,2500],ds:[
  ln(zeroLine,24,'#222',1.8,{straight:true}),
  ...layers([[vpA,'#fbd568'],[vpB,'#fbc632'],[vpC,'#e3a62e'],[vpD,'#ee3c3c'],[vpE,'#d03a35'],[vpF,'#a43333']],.5,'up'),
  ...layers([[vnA,'#cfe4f2'],[vnB,'#a3cfe9'],[vnC,'#6fb2dd'],[vnD,'#5b9fd9'],[vnE,'#3f7de8'],[vnF,'#777']],.5,'dn')]})
panel({x0:372,x1:682.5,y0:590,y1:723,plain:true,min:-1,max:1,yt:[-1,-.8,-.6,-.4,-.2,0,.2,.4,.6,.8],ds:[
  ln(zeroLine,24,'#111',1.5,{straight:true}),
  bar(tlYellow,.25,'#f7c93c','s',{start:7.75,border:'#776f4e'}),
  bar(tlPale,.25,'#e3d9a8','s',{start:8.5,border:'#776f4e'}),
  bar(tlRed,.25,'#d81c20','s',{start:8.75,border:'#6e3a30'}),
  bar(tlOlive,.25,'#a8903a','s',{start:9.75,border:'#6e6a40'}),
  ...layers([[tlUp,'#c5e6d4']],.25,'g'),
  ...layers([[tlDown,'#c5e6d4']],.25,'h')]})

panel({x0:713,x1:1019,y0:34,y1:167,min:35,max:70,yt:[35,37.5,40,42.5,45,47.5,50,52.5,55,57.5,60,62.5,65,67.5],ds:[
  ln(demActual,1,'#333',1.5,{straight:true}),
  ln(demDash,1,'#222',1.6,{straight:true,dash:[5,3]}),
  ln(demBlueDash,1,'#3f96cf',1.2,{straight:true,dash:[3,2]}),
  ln(demGreen,1,'#4cbb7f',1.4,{straight:true}),
  ln(demGreenDash,1,'#66cc93',1.2,{straight:true,dash:[2,2]}),
  ...band(demLo,demHi,1,'rgba(130,215,195,.2)',{straight:true})]})
panel({x0:706,x1:1019,y0:220,y1:353,min:0,max:55,yt:[0,5,10,15,20,25,30,35,40,45,50],ds:[
  ln(soCap,24,'#888',1.5,{straight:true,dash:[2,2]}),
  ln(soGreen,1,'#2fb06c',1.9),
  ln(soBlue,1,'#4a98d4',1.8),
  ln(soGreenDash,1,'#5ccb90',1.2,{straight:true,dash:[3,2]}),
  ln(soBlueDash,1,'#58a8dc',1.1,{straight:true,dash:[2,2]}),
  ...layers([[soArea,'#fbd568']],1,'s'),
  ...band(soLo,soHi,1,'rgba(130,215,195,.22)')]})
panel({x0:701,x1:1019,y0:405,y1:538,xt:x6,xl:x6Labels,min:0,max:8,yt:[0,1,2,3,4,5,6,7],ds:[
  ln(zeroLine,24,'#111',2,{straight:true}),
  ln(ofCap,24,'#111',2,{straight:true,dash:[6,4]}),
  ln(ofGrey,1,'#666b70',1.8),
  ln(ofBlue,1,'#4a98c8',1.1),
  ln(ofDash,1,'#5aa8dc',1.1,{dash:[2,2]}),
  ...layers([[ofArea,'#d2e78f']],1,'a'),
  ...band(ofArea,ofLime,1,'rgba(170,210,130,.55)'),
  ...layers([[ofHi,'rgba(190,210,235,.4)']],1,'h')]})
panel({x0:706,x1:1019,y0:590,y1:723,min:0,max:50,yt:[0,5,10,15,20,25,30,35,40,45],ds:[
  ln(zeroLine,24,'#7a8a60',2.5,{straight:true}),
  ln(onCap,24,'#222',2,{straight:true,dash:[6,4]}),
  ln(onGrey,1,'#5a6478',1.6),
  ln(onPink,1,'#d79aa0',1.2,{dash:[2,2]}),
  ln(onCyan,1,'#38bcd8',1.3),
  ...layers([[onArea,'#a5d676']],1,'a'),
  ...layers([[onHi,'rgba(190,210,235,.45)']],1,'h')]})

panel({x0:1044,x1:1356,y0:34,y1:167,plain:true,min:25,max:375,yt:[25,50,75,100,125,150,175,200,225,250,275,300,325,350],ds:[
  ln(daBlack,1,'#111',1.9),
  ...band(daRedLo,daRedHi,1,'#e85c20'),
  ...band(daOraLo,daOraHi,1,'#efa030'),
  ...band(daYelLo,daYelHi,1,'#f9cf55'),
  ...band(daTanLo,daTanHi,1,'#f5e7c4')]})
panel({x0:1044,x1:1356,y0:220,y1:353,plain:true,min:0,max:400,yt:[0,50,100,150,200,250,300,350],ds:[
  ln(zeroLine,24,'#666',2.5,{straight:true}),
  ln(daBlack,1,'#111',1.8),
  ln(dfPink,1,'#e0468f',1.8),
  ln(dfBlue,1,'#3f96cf',1.4),
  ln(dfBlueDash,1,'#58a8dc',1,{dash:[3,2]}),
  ...band(dfSkyLo,dfSkyHi,1,'rgba(130,210,238,.6)',{start:10}),
  ...band(dfLo,dfHi,1,'rgba(245,225,165,.5)')]})
panel({x0:1044,x1:1356,y0:405,y1:538,xt:x6,xl:x6Labels,xMax:23,min:0,max:90,yt:[0,10,20,30,40,50,60,70,80],ds:[
  ln(zeroLine,24,'#111',2,{straight:true}),
  ln(fmOutline,1,'#444',1.9,{smooth:true}),
  ln(fmWhite,1,'#fff',1.5,{smooth:true}),
  ...layers([[fmGreen,'#a9da78'],[fmLime,'#d4e88e'],[fmSolar,'#fdca36'],[fmSky,'#66bdec'],[fmBrown,'#b1703e'],[fmPale,'#ead9a8'],[fmBlue,'#3b8ecb'],[fmOlive,'#736d5b'],[fmDark,'#4f5c48'],[fmTeal,'#6cb5cb'],[fmOrange,'#ff9c0a']],1,'f',{smooth:true})]})
panel({x0:1044,x1:1356,y0:590,y1:723,min:0,max:90,yt:[0,10,20,30,40,50,60,70,80],ds:[
  ln(zeroLine,24,'#66704f',2.5,{straight:true}),
  ln(avWhite,1,'#fff',1.8,{smooth:true}),
  ln(avYellow,1,'#ffe13a',3,{smooth:true}),
  ln(avDash,1,'#f0932b',1,{dash:[4,3]}),
  ln(avPale,1,'#a8a28a',1),
  ...layers([[avGreen,'#a9da78'],[avLime,'#d4e88e'],[avSolar,'#fdca36'],[avBlue,'#3b8ecb'],[avOlive,'#736d5b'],[avNavy,'#36467a'],[avTeal,'#6cb5cb'],[avOrange,'#f9c47a']],1,'a')]})

panel({x0:1382,x1:1696,y0:34,y1:167,plain:true,xt:x6,xl:x6Labels,xMax:23.3,min:0,max:250,yt:[0,25,50,75,100,125,150,175,200,225],ds:[
  ln(zeroLine,24,'#222',2,{straight:true}),
  ln(dbBlue,1,'#3f5cb5',1.8,{straight:true}),
  ln(dbOlive,1,'#8f8f32',2,{straight:true}),
  ln(dbRed,1,'#d8453f',1.8,{straight:true}),
  ln(dbPink,1,'#e8609e',1.9,{straight:true}),
  ln(dbCyan,1,'#58dce8',1.8,{straight:true})]})
panel({x0:1389,x1:1696,y0:220,y1:353,xMin:-.1,xMax:24.2,min:-10,max:15,yt:[-10,-7.5,-5,-2.5,0,2.5,5,7.5,10,12.5],ds:[
  ln(zeroLine,26,'#111',2,{straight:true,start:-1}),
  ln(sfLine,1,'#1a1a1a',2),
  ...[[sfRed,'#f53a36'],[sfBlue,'#3a5ea8'],[sfPink,'#d34f92'],[sfCyan,'#45c4d8'],[sfOrange,'#e08a36'],[sfNavy,'#35477d'],[sfCrimson,'#c93a3a'],[sfOlive,'#a8a835'],[sfTeal,'#5a9fb0'],[sfBrown,'#a0683c'],
      [sfNegPink,'#d64e9c'],[sfNegOrange,'#e08a36'],[sfNegOlive,'#a8a835'],[sfNegBrown,'#a0683c']]
    .map(l=>bar(by4(l[0]),.25,l[1],'f',{border:'rgba(60,60,60,.75)',bw:.8,bp:1}))]})
panel({x0:1393,x1:1695,y0:405,y1:538,xMin:-.5,xMax:23.5,min:-22.5,max:7.5,yt:[-22.5,-20,-17.5,-15,-12.5,-10,-7.5,-5,-2.5,0,2.5,5],ds:[
  ln(zeroLine,26,'#111',1.8,{straight:true,start:-1}),
  ...[[hBlue,'#3a5ea8'],[hPink,'#e0509a'],[hCyan,'#45d0e0'],[hOrange,'#e88f3a'],[hNavy,'#35477d'],[hRed,'#cc3838'],[hOlive,'#a8a835'],[hTeal,'#5a9fb0'],[hBrown,'#a0683c'],
      [hUpOrange,'#e88f3a'],[hUpOlive,'#a8a835'],[hUpBrown,'#a0683c']]
    .map(l=>bar(l[0],1,l[1],'h',{start:-.5,border:'rgba(70,70,70,.75)',bw:1,bp:.72}))]})
panel({x0:1385,x1:1696,y0:590,y1:723,plain:true,xMax:24.2,min:-250,max:2750,yt:[-250,0,250,500,750,1000,1250,1500,1750,2000,2250,2500],ds:[
  ln(idRed,1,'#e0262c',2.2),
  ln(idBlue,1,'#3f7fc0',1.6),
  ln(idPurple,1,'#9a70c8',1.3),
  ln(idPink,1,'#ef9aa0',1.3),
  ln(idOrange,1,'#e08a4e',1.3),
  ln(idGrey,1,'#6a6a6a',1.6),
  ln(idDotA,1,'#999',1,{straight:true,dash:[1,3]}),
  ln(idDotB,1,'#999',1,{straight:true,dash:[1,3]}),
  ln(idDotC,1,'#999',1,{straight:true,dash:[1,3]})]})
</script>
</body>
</html>
